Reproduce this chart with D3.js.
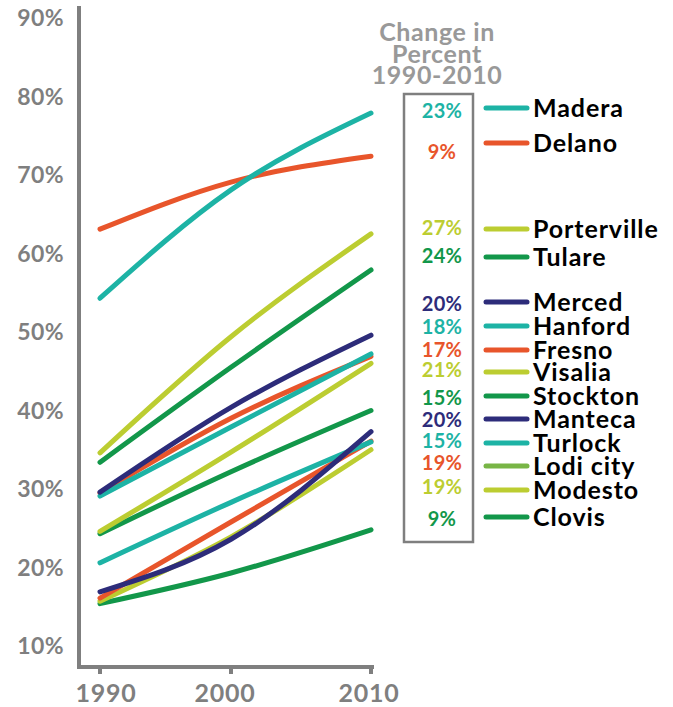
<!DOCTYPE html>
<html>
<head>
<meta charset="utf-8">
<script src="https://cdn.jsdelivr.net/npm/d3@7"></script>
<style>
  html, body { margin: 0; padding: 0; background: #fff; }
  svg { display: block; font-family: Lato, "Open Sans", sans-serif; }
</style>
</head>
<body>
<svg id="chart" width="673" height="707"></svg>
<script>
// ---- data ----
const years = [1990, 2000, 2010];
const cities = ["Madera", "Delano", "Porterville", "Tulare", "Merced", "Hanford", "Fresno",
                "Visalia", "Stockton", "Manteca", "Turlock", "Lodi city", "Modesto", "Clovis"];
const madera      = [54.3, 68.1, 77.9];
const delano      = [63.1, 69.1, 72.4];
const porterville = [34.6, 49.4, 62.5];
const tulare      = [33.4, 45.5, 57.9];
const merced      = [29.6, 40.4, 49.6];
const hanford     = [29.1, 37.9, 47.2];
const fresno      = [29.5, 39.0, 46.9];
const visalia     = [24.6, 34.7, 46.0];
const stockton    = [24.3, 32.2, 40.0];
const manteca     = [16.9, 23.6, 37.3];
const turlock     = [20.6, 28.3, 36.0];
const lodi        = [16.1, 25.8, 36.1];
const modesto     = [15.7, 23.9, 35.0];
const clovis      = [15.4, 19.3, 24.8];
const changeLabels = ["23%", "9%", "27%", "24%", "20%", "18%", "17%", "21%", "15%", "20%", "15%", "19%", "19%", "9%"];
const yTicks = [10, 20, 30, 40, 50, 60, 70, 80, 90];
const xTicks = [1990, 2000, 2010];

const seriesValues = [madera, delano, porterville, tulare, merced, hanford, fresno,
                      visalia, stockton, manteca, turlock, lodi, modesto, clovis];

// ---- styles ----
const TEAL = "#1db3a5", ORANGE = "#e8552b", LIME = "#bccd31", GREEN = "#12974a", NAVY = "#2d2c7a", LODI = "#78b546";
const lineColors   = [TEAL, ORANGE, LIME, GREEN, NAVY, TEAL, ORANGE, LIME, GREEN, NAVY, TEAL, ORANGE, LIME, GREEN];
const swatchColors = [TEAL, ORANGE, LIME, GREEN, NAVY, TEAL, ORANGE, LIME, GREEN, NAVY, TEAL, LODI, LIME, GREEN];
// legend layout (vertical centres of each row)
const legendRowY = [108, 143, 229, 257, 302, 326, 350, 372, 396, 419, 443, 466, 490, 517];
const pctRowY    = [111, 152, 228, 256, 304, 327, 350, 370, 398, 420, 441, 463, 487, 519];

const svg = d3.select("#chart");
const GRAY = "#7f7f7f";

const x = d3.scaleLinear().domain([1990, 2000, 2010]).range([100, 231, 371]);
const y = d3.scaleLinear().domain([10, 90]).range([646, 18]);

// axes
svg.append("line").attr("x1", 79).attr("x2", 79).attr("y1", 6).attr("y2", 669)
  .attr("stroke", GRAY).attr("stroke-width", 4);
svg.append("line").attr("x1", 77).attr("x2", 374).attr("y1", 667).attr("y2", 667)
  .attr("stroke", GRAY).attr("stroke-width", 4);
svg.selectAll(".xt").data(xTicks).join("line")
  .attr("x1", d => x(d)).attr("x2", d => x(d)).attr("y1", 667).attr("y2", 674)
  .attr("stroke", GRAY).attr("stroke-width", 4);
svg.selectAll(".xl").data(xTicks).join("text")
  .attr("x", d => x(d) + (d === 2000 ? -6 : (d === 1990 ? 6 : -2))).attr("y", 702)
  .attr("text-anchor", "middle").attr("fill", GRAY)
  .attr("font-size", 25).attr("font-weight", 700).attr("letter-spacing", 0.8).text(d => d);
svg.selectAll(".yl").data(yTicks).join("text")
  .attr("x", 64).attr("y", d => y(d) + 8)
  .attr("text-anchor", "end").attr("fill", GRAY)
  .attr("font-size", 23).attr("font-weight", 700).attr("letter-spacing", 0.4).text(d => d + "%");

// lines
const line = d3.line().x((d, i) => x(years[i])).y(d => y(d)).curve(d3.curveMonotoneX);
const order = d3.range(cities.length).reverse();
svg.selectAll(".series").data(order).join("path")
  .attr("d", i => line(seriesValues[i]))
  .attr("fill", "none").attr("stroke", i => lineColors[i])
  .attr("stroke-width", 5).attr("stroke-linecap", "round");

// change box
svg.append("rect").attr("x", 404).attr("y", 94).attr("width", 69).attr("height", 448)
  .attr("fill", "none").attr("stroke", GRAY).attr("stroke-width", 2.5);
const title = ["Change in", "Percent", "1990-2010"];
svg.selectAll(".tt").data(title).join("text")
  .attr("x", 437).attr("y", (d, i) => 41 + i * 21.5)
  .attr("text-anchor", "middle").attr("fill", "#999999")
  .attr("font-size", 25).attr("font-weight", 700).attr("letter-spacing", 0.6).text(d => d);
svg.selectAll(".pct").data(changeLabels).join("text")
  .attr("x", 442).attr("y", (d, i) => pctRowY[i] + 7)
  .attr("text-anchor", "middle").attr("fill", (d, i) => lineColors[i])
  .attr("font-size", 20).attr("font-weight", 700).attr("letter-spacing", 0.3).text(d => d);

// legend
svg.selectAll(".sw").data(cities).join("line")
  .attr("x1", 486).attr("x2", 527)
  .attr("y1", (d, i) => legendRowY[i]).attr("y2", (d, i) => legendRowY[i])
  .attr("stroke", (d, i) => swatchColors[i]).attr("stroke-width", 5).attr("stroke-linecap", "round");
svg.selectAll(".nm").data(cities).join("text")
  .attr("x", 533).attr("y", (d, i) => legendRowY[i] + 9)
  .attr("fill", "#000").attr("font-size", 25).attr("font-weight", 700).attr("letter-spacing", 0.9).text(d => d);
</script>
</body>
</html>
